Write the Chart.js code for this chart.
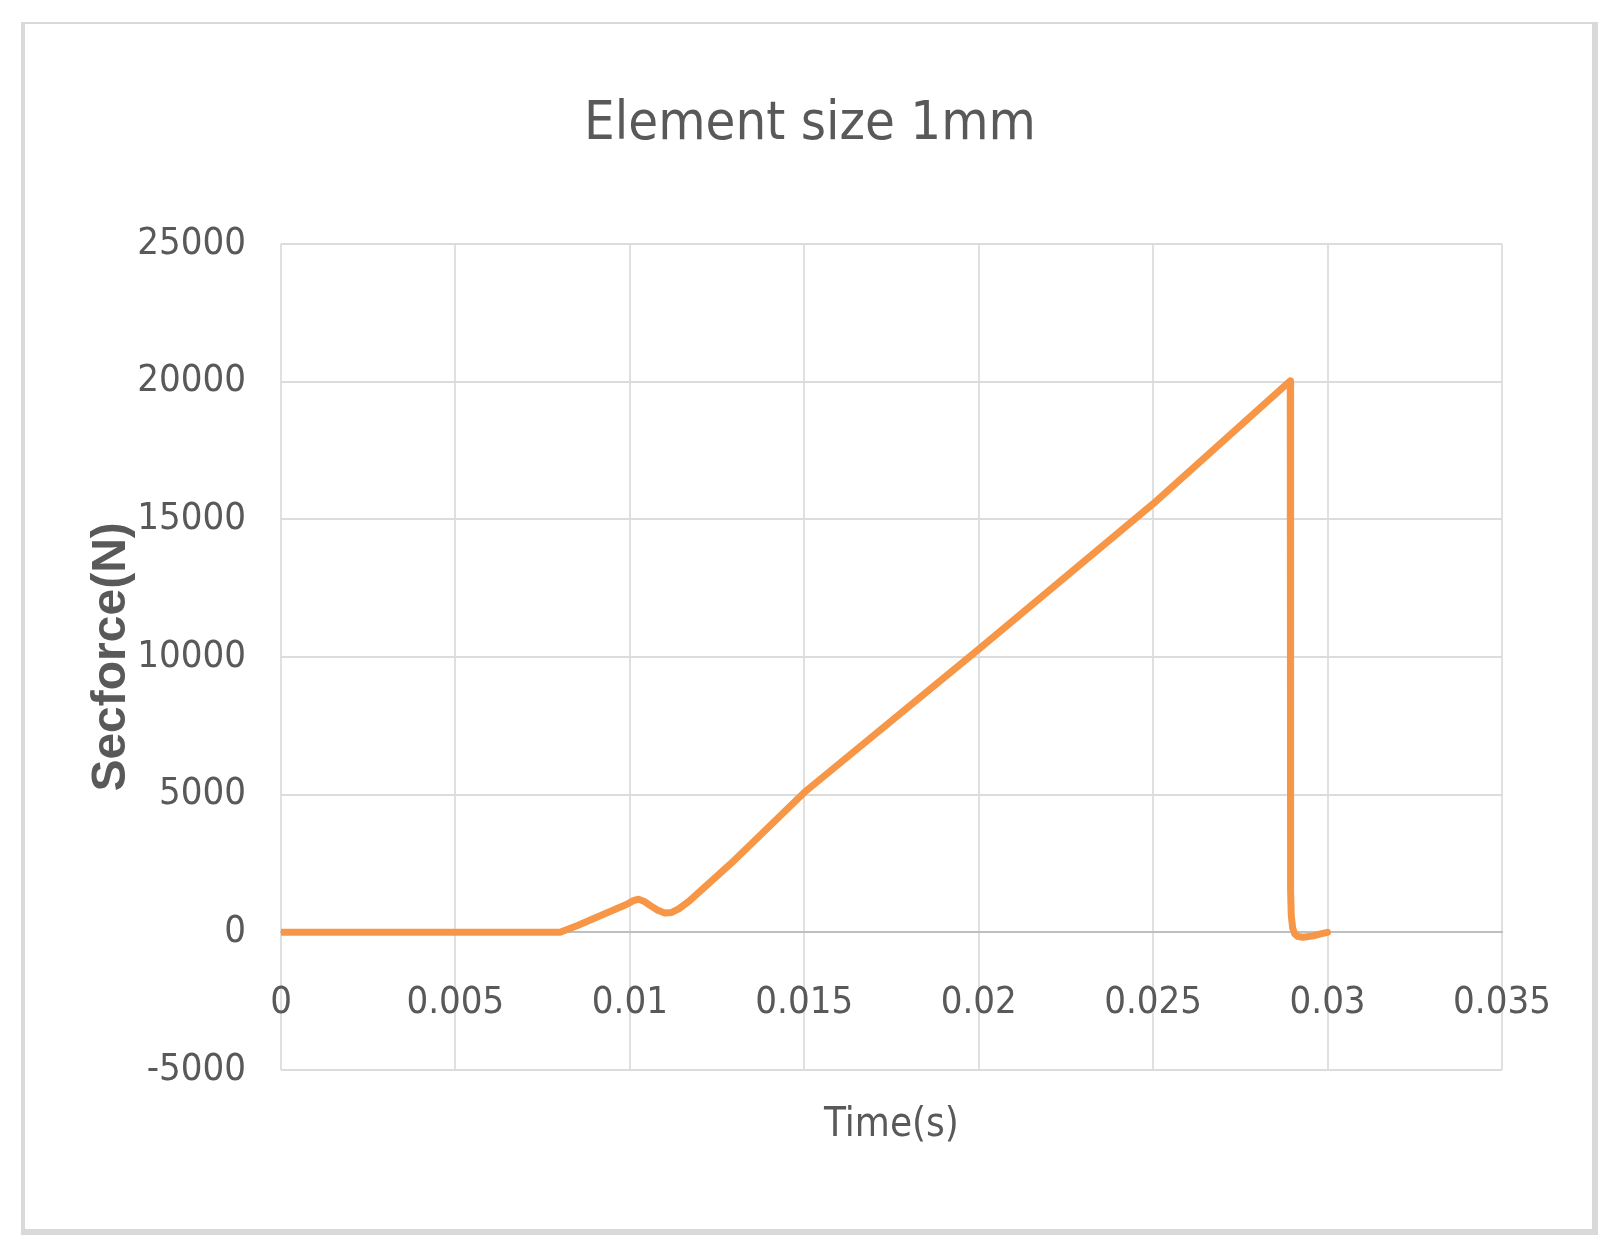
<!DOCTYPE html>
<html>
<head>
<meta charset="utf-8">
<script src="https://cdn.jsdelivr.net/npm/chart.js@4.4.1/dist/chart.umd.min.js"></script>
<style>
  html, body { margin: 0; padding: 0; background: #ffffff; }
  body { width: 1619px; height: 1253px; position: relative; overflow: hidden; }
  #frame {
    position: absolute; left: 21px; top: 22px;
    width: 1567px; height: 1205px;
    border-style: solid; border-color: #d9d9d9;
    border-width: 2px 6px 6px 4px;
    pointer-events: none;
  }
  canvas { position: absolute; left: 0; top: 0; }
</style>
</head>
<body>
<canvas id="c" width="1619" height="1253"></canvas>
<div id="frame"></div>
<script>
// ---- data ----
const chartTitle = "Element size 1mm";
const xTitle = "Time(s)";
const yTitle = "Secforce(N)";

const timeS = [0, 0.002, 0.004, 0.006, 0.0080, 0.0085, 0.0090, 0.0095, 0.0099, 0.0101, 0.01025, 0.0104,
               0.0106, 0.0108, 0.0110, 0.0112, 0.0114, 0.0117, 0.0129, 0.015, 0.020, 0.025,
               0.02893, 0.02894, 0.02896, 0.0290, 0.02906, 0.02915, 0.0293, 0.0296, 0.0298, 0.0300];
const secforceN = [0, 0, 0, 0, 0, 250, 520, 790, 1010, 1150, 1200, 1130,
                   960, 800, 700, 720, 850, 1130, 2500, 5080, 10280, 15560,
                   20020, 1500, 600, 150, -60, -150, -180, -130, -60, 0];

const xTickValues = [0, 0.005, 0.01, 0.015, 0.02, 0.025, 0.03, 0.035];
const xTickLabels = ["0", "0.005", "0.01", "0.015", "0.02", "0.025", "0.03", "0.035"];
const yTickValues = [-5000, 0, 5000, 10000, 15000, 20000, 25000];
const yTickLabels = ["-5000", "0", "5000", "10000", "15000", "20000", "25000"];

const points = timeS.map((t, i) => ({ x: t, y: secforceN[i] }));

const NARROW = "'DejaVu Sans Condensed', 'DejaVu Sans', sans-serif";
const TEXT = '#595959';

new Chart(document.getElementById('c'), {
  type: 'line',
  data: {
    datasets: [{
      data: points,
      borderColor: '#F79646',
      backgroundColor: '#F79646',
      borderWidth: 7,
      pointRadius: 0,
      fill: false,
      tension: 0,
      borderCapStyle: 'round',
      borderJoinStyle: 'round'
    }]
  },
  options: {
    responsive: false,
    devicePixelRatio: 1,
    animation: false,
    layout: { padding: { left: 118, right: 117, top: 0, bottom: 183 } },
    plugins: {
      legend: { display: false },
      tooltip: { enabled: false },
      title: {
        display: true,
        text: chartTitle,
        color: TEXT,
        font: { family: NARROW, size: 54, weight: 'normal' },
        padding: { top: 93, bottom: 86 }
      }
    },
    scales: {
      x: {
        type: 'linear',
        position: { y: 0 },
        min: 0,
        max: 0.035,
        afterBuildTicks: (s) => { s.ticks = xTickValues.map(v => ({ value: v })); },
        afterFit: (s) => { s.height = 183; },
        ticks: {
          color: TEXT,
          font: { family: NARROW, size: 38 },
          padding: 48,
          maxRotation: 0,
          autoSkip: false,
          callback: (v, i) => xTickLabels[i]
        },
        grid: { color: '#e0e0e0', lineWidth: 2, drawTicks: false },
        border: { display: true, color: '#bfbfbf', width: 2 },
        title: {
          display: true,
          text: xTitle,
          color: TEXT,
          font: { family: NARROW, size: 40 },
          padding: { top: 0, bottom: -34 }
        }
      },
      y: {
        type: 'linear',
        position: 'left',
        min: -5000,
        max: 25000,
        afterBuildTicks: (s) => { s.ticks = yTickValues.map(v => ({ value: v })); },
        afterFit: (s) => { s.width = 163; },
        ticks: {
          color: TEXT,
          font: { family: NARROW, size: 38 },
          padding: 35,
          autoSkip: false,
          callback: (v, i) => yTickLabels[i]
        },
        grid: { color: '#dcdcdc', lineWidth: 2, drawTicks: false },
        border: { display: false },
        title: {
          display: true,
          text: yTitle,
          color: TEXT,
          font: { family: "'Liberation Sans', Arial, sans-serif", size: 48, weight: 'bold' },
          padding: { top: -35, bottom: 0 }
        }
      }
    }
  }
});
</script>
</body>
</html>
